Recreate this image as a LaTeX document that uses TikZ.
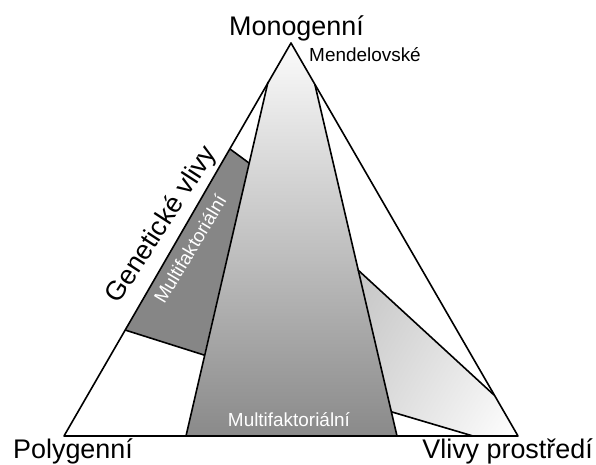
\documentclass[tikz,border=0pt]{standalone}
\usepackage{fontspec}
\setmainfont{Liberation Sans}
\usepackage{xcolor}
\usetikzlibrary{shadings}

\begin{document}
\begin{tikzpicture}[x=1bp, y=-1bp, line join=round,
        hrana/.style={black, line width=1.6bp},
        velky/.style={font=\fontsize{27}{30}\selectfont},
        maly/.style={font=\fontsize{19}{21}\selectfont}]
        \useasboundingbox (0,0) rectangle (596,465);

        % Vrcholy
        \coordinate (A) at (291,43);
        \coordinate (L) at (64,436);
        \coordinate (R) at (518,436);

        % Vnitrni body
        \coordinate (P1) at (268,82);
        \coordinate (P2) at (186,436);
        \coordinate (Q1) at (315,85);
        \coordinate (Q2) at (397,436);
        \coordinate (D1) at (230,149);
        \coordinate (D2) at (249,163);
        \coordinate (D3) at (125,330);
        \coordinate (D4) at (204,355);
        \coordinate (E1) at (358,270);
        \coordinate (E2) at (494,395);
        \coordinate (E3) at (392,412);
        \coordinate (E4) at (473,436);

        % Oblasti
        \shade[top color=gray!3, bottom color=gray!92] (A) -- (P1) -- (P2) -- (Q2) -- (Q1) -- cycle;
        \fill[gray!95] (D1) -- (D2) -- (D4) -- (D3) -- cycle;
        \shade[upper left=gray!45, upper right=gray!20, lower left=gray!30, lower right=white]
              (E1) -- (E2) -- (R) -- (E4) -- (E3) -- cycle;

        % Cary
        \draw[hrana] (A) -- (L) -- (R) -- cycle;
        \draw[hrana] (P1) -- (P2);
        \draw[hrana] (Q1) -- (Q2);
        \draw[hrana] (D1) -- (D2);
        \draw[hrana] (D3) -- (D4);
        \draw[hrana] (E1) -- (E2);
        \draw[hrana] (E3) -- (E4);

        % Popisky
        \node[velky, anchor=base] (mono) at (296.5,36) {Monogenní};
        \node[maly, anchor=base] (mend) at (365,62) {Mendelovské};
        \node[velky, anchor=base west, inner sep=0pt] (poly) at (13,458) {Polygenní};
        \node[velky, anchor=base east, inner sep=0pt] (prost) at (593,458) {Vlivy prostředí};
        \node[maly, white, anchor=base] (multi) at (289,426) {Multifaktoriální};
        \node[maly, white, rotate=59, inner sep=0pt] (multil) at (190,249) {Multifaktoriální};
        \node[velky, rotate=57, inner sep=0pt] (gen) at (162,225) {Genetické vlivy};
\end{tikzpicture}
\end{document}
